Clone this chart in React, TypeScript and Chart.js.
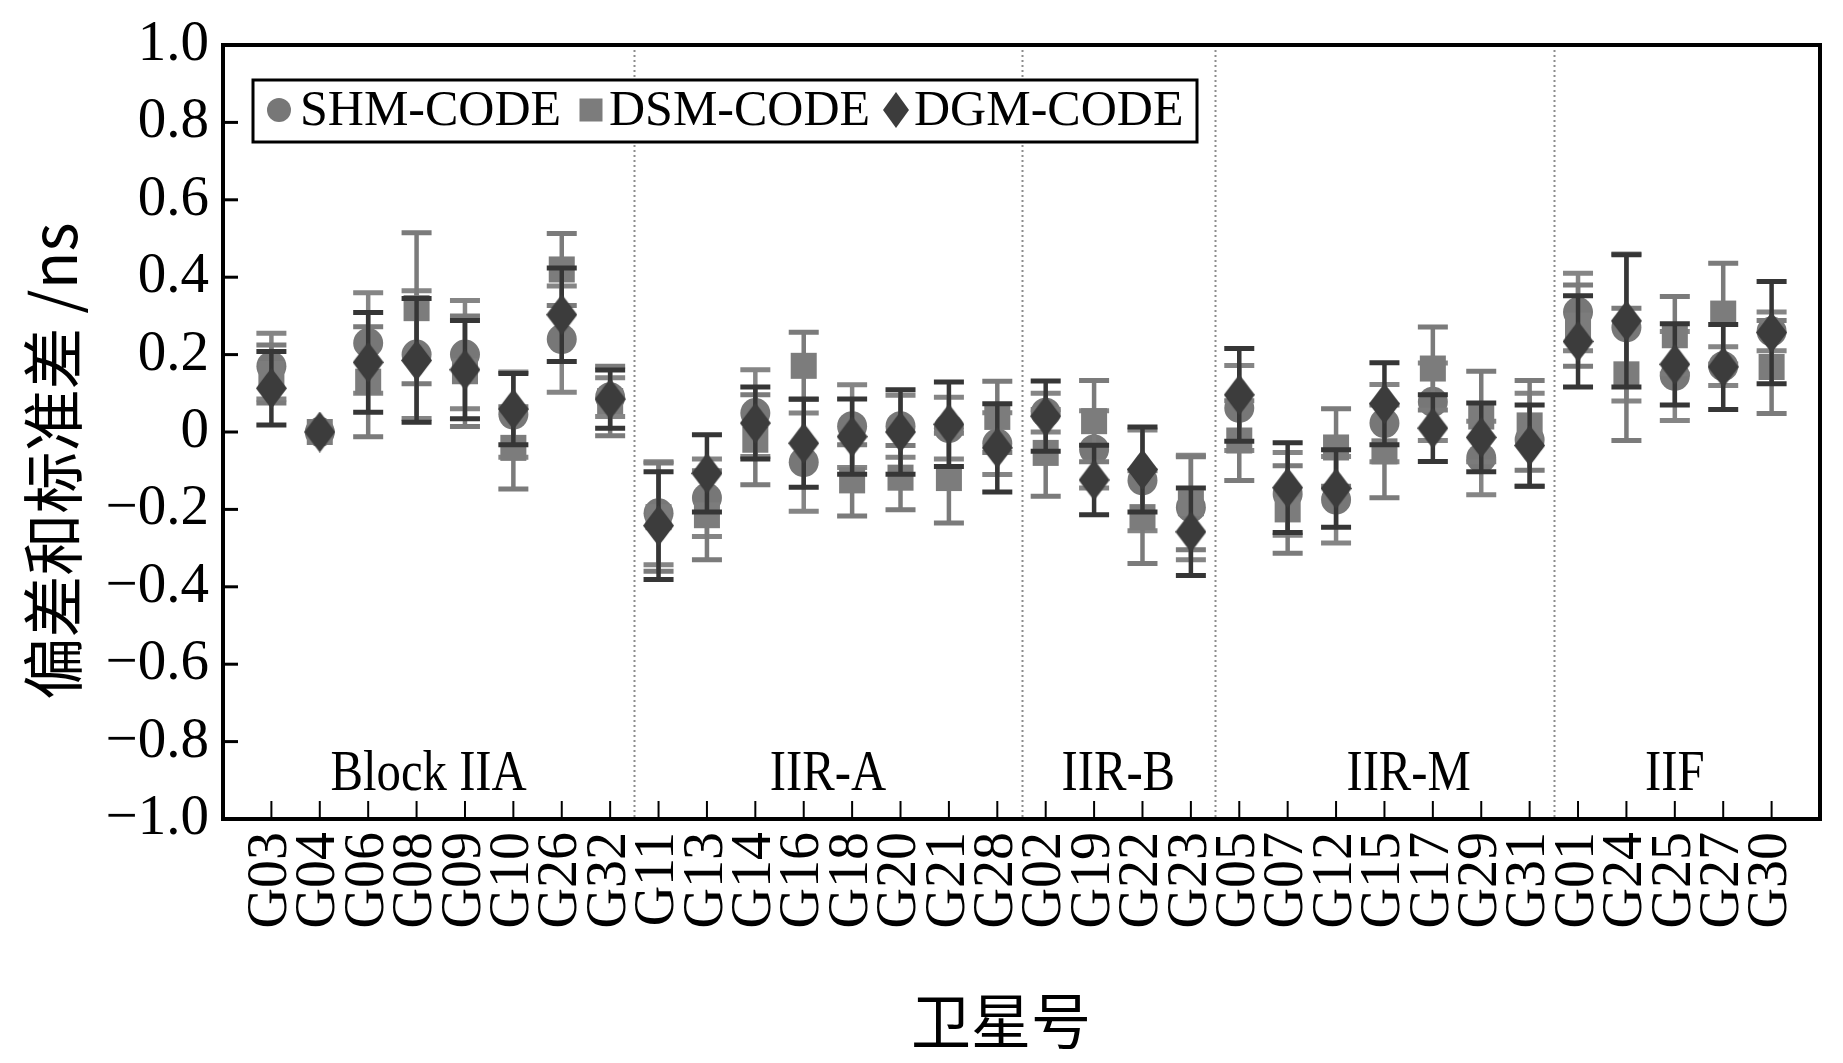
import React, { useEffect, useRef } from 'react';
import { Chart, registerables } from 'chart.js';

Chart.register(...registerables);

const satellites = [
  'G03', 'G04', 'G06', 'G08', 'G09', 'G10', 'G26', 'G32',
  'G11', 'G13', 'G14', 'G16', 'G18', 'G20', 'G21', 'G28',
  'G02', 'G19', 'G22', 'G23',
  'G05', 'G07', 'G12', 'G15', 'G17', 'G29', 'G31',
  'G01', 'G24', 'G25', 'G27', 'G30',
];

const shmMean = [
  0.17, 0.0, 0.23, 0.2, 0.2, 0.045, 0.24, 0.09,
  -0.21, -0.17, 0.049, -0.078, 0.015, 0.015, 0.01, -0.03,
  0.05, -0.045, -0.125, -0.195,
  0.062, -0.16, -0.175, 0.023, 0.078, -0.067, -0.02,
  0.31, 0.27, 0.145, 0.17, 0.26,
];
const shmStd = [
  0.085, 0.0, 0.13, 0.165, 0.14, 0.11, 0.137, 0.05,
  0.133, 0.1, 0.112, 0.127, 0.107, 0.08, 0.08, 0.08,
  0.05, 0.1, 0.13, 0.135,
  0.11, 0.107, 0.112, 0.1, 0.1, 0.095, 0.12,
  0.1, 0.19, 0.115, 0.05, 0.05,
];

const dsmMean = [
  0.15, 0.0, 0.13, 0.32, 0.157, -0.041, 0.42, 0.08,
  -0.22, -0.215, -0.02, 0.171, -0.125, -0.118, -0.119, 0.039,
  -0.054, 0.028, -0.22, -0.184,
  -0.022, -0.2, -0.04, -0.05, 0.164, 0.04, 0.017,
  0.275, 0.149, 0.25, 0.306, 0.168,
];
const dsmStd = [
  0.075, 0.0, 0.142, 0.195, 0.143, 0.106, 0.093, 0.09,
  0.14, 0.115, 0.116, 0.087, 0.092, 0.083, 0.116, 0.092,
  0.112, 0.105, 0.12, 0.12,
  0.103, 0.113, 0.1, 0.12, 0.107, 0.117, 0.116,
  0.105, 0.171, 0.1, 0.13, 0.12,
];

const dgmMean = [
  0.113, 0.0, 0.18, 0.185, 0.161, 0.059, 0.303, 0.085,
  -0.242, -0.107, 0.023, -0.029, -0.012, 0.0, 0.02, -0.041,
  0.041, -0.124, -0.097, -0.258,
  0.096, -0.144, -0.146, 0.073, 0.01, -0.014, -0.035,
  0.234, 0.287, 0.175, 0.168, 0.257,
];
const dgmStd = [
  0.095, 0.0, 0.129, 0.16, 0.127, 0.092, 0.121, 0.075,
  0.139, 0.1, 0.093, 0.114, 0.097, 0.109, 0.109, 0.114,
  0.091, 0.09, 0.11, 0.113,
  0.12, 0.116, 0.1, 0.106, 0.086, 0.089, 0.105,
  0.118, 0.171, 0.105, 0.11, 0.132,
];

const seriesNames = ['SHM-CODE', 'DSM-CODE', 'DGM-CODE'];
const groupNames = ['Block IIA', 'IIR-A', 'IIR-B', 'IIR-M', 'IIF'];
const groupLabelPos = [4.25, 12.5, 18.5, 24.5, 30];
const groupBoundaries = [8.5, 16.5, 20.5, 27.5];
const yMin = -1.0;
const yMax = 1.0;
const yStep = 0.2;
const xTitle = '卫星号';
const yTitle = '偏差和标准差 /ns';

const SHM_COLOR = '#777777';
const DSM_COLOR = '#7c7c7c';
const DGM_COLOR = '#3c3c3c';
const SHM_ERR = '#858585';
const DSM_ERR = '#7b7b7b';
const DGM_ERR = '#363636';

function makeDiamond(w: number, h: number, color: string) {
  const c = document.createElement('canvas');
  c.width = w;
  c.height = h;
  const g = c.getContext('2d')!;
  g.fillStyle = color;
  g.beginPath();
  g.moveTo(w / 2, 0);
  g.lineTo(w, h / 2);
  g.lineTo(w / 2, h);
  g.lineTo(0, h / 2);
  g.closePath();
  g.fill();
  return c;
}

function fmtY(v: number) {
  if (Math.abs(v) < 1e-9) return '0';
  const s = Math.abs(v).toFixed(1);
  return v < 0 ? '\u2212' + s : s;
}

const customPlugin = {
  id: 'customDecor',
  beforeDatasetsDraw(chart: any) {
    const { ctx, chartArea, scales } = chart;
    ctx.save();
    ctx.strokeStyle = '#8c8c8c';
    ctx.lineWidth = 2;
    ctx.setLineDash([2, 3]);
    groupBoundaries.forEach((b) => {
      const x = Math.round(scales.x.getPixelForValue(b)) + 0.5;
      ctx.beginPath();
      ctx.moveTo(x, chartArea.top);
      ctx.lineTo(x, chartArea.bottom);
      ctx.stroke();
    });
    ctx.restore();
  },
  beforeDatasetDraw(chart: any, args: any) {
    const ds = chart.data.datasets[args.index];
    const errs: number[] = ds.errs;
    const means: number[] = ds.means;
    if (!errs) return;
    const { ctx, scales } = chart;
    ctx.save();
    ctx.strokeStyle = ds.errColor;
    ctx.setLineDash([]);
    means.forEach((m, i) => {
      const e = errs[i];
      if (!e) return;
      const x = scales.x.getPixelForValue(i + 1);
      const yt = scales.y.getPixelForValue(m + e);
      const yb = scales.y.getPixelForValue(m - e);
      ctx.lineWidth = 4.5;
      ctx.beginPath();
      ctx.moveTo(x, yt);
      ctx.lineTo(x, yb);
      ctx.stroke();
      ctx.lineWidth = 5;
      ctx.beginPath();
      ctx.moveTo(x - 15, yt);
      ctx.lineTo(x + 15, yt);
      ctx.moveTo(x - 15, yb);
      ctx.lineTo(x + 15, yb);
      ctx.stroke();
    });
    ctx.restore();
  },
  afterDatasetsDraw(chart: any) {
    const { ctx, scales } = chart;
    ctx.save();
    ctx.fillStyle = '#000';
    ctx.textAlign = 'center';
    ctx.textBaseline = 'alphabetic';
    ctx.font = '56px "Liberation Serif"';
    groupNames.forEach((g, i) => {
      const x = scales.x.getPixelForValue(groupLabelPos[i]);
      ctx.save();
      ctx.translate(x, 790);
      ctx.scale(0.87, 1);
      ctx.fillText(g, 0, 0);
      ctx.restore();
    });
    const bx = 253, by = 80, bw = 944, bh = 62;
    ctx.fillStyle = '#fff';
    ctx.fillRect(bx, by, bw, bh);
    ctx.strokeStyle = '#000';
    ctx.lineWidth = 3;
    ctx.strokeRect(bx, by, bw, bh);
    const cy = 110;
    ctx.fillStyle = SHM_COLOR;
    ctx.beginPath();
    ctx.arc(279, cy, 12, 0, Math.PI * 2);
    ctx.fill();
    ctx.fillStyle = DSM_COLOR;
    ctx.fillRect(591 - 11.5, cy - 11.5, 23, 23);
    ctx.fillStyle = DGM_COLOR;
    ctx.beginPath();
    ctx.moveTo(896, cy - 18);
    ctx.lineTo(909, cy);
    ctx.lineTo(896, cy + 18);
    ctx.lineTo(883, cy);
    ctx.closePath();
    ctx.fill();
    ctx.fillStyle = '#000';
    ctx.font = '50px "Liberation Serif"';
    ctx.textAlign = 'left';
    ctx.textBaseline = 'middle';
    ctx.fillText(seriesNames[0], 300, cy + 2);
    ctx.fillText(seriesNames[1], 609, cy + 2);
    ctx.fillText(seriesNames[2], 914, cy + 2);
    ctx.restore();
  },
  afterDraw(chart: any) {
    const { ctx, chartArea, scales } = chart;
    ctx.save();
    ctx.strokeStyle = '#000';
    ctx.lineWidth = 3;
    for (let v = yMin; v <= yMax + 1e-9; v += yStep) {
      const y = scales.y.getPixelForValue(v);
      ctx.beginPath();
      ctx.moveTo(chartArea.left, y);
      ctx.lineTo(chartArea.left + 15, y);
      ctx.stroke();
    }
    ctx.lineWidth = 2;
    satellites.forEach((_, i) => {
      const x = scales.x.getPixelForValue(i + 1);
      ctx.beginPath();
      ctx.moveTo(x, chartArea.bottom);
      ctx.lineTo(x, chartArea.bottom - 18);
      ctx.stroke();
    });
    ctx.lineWidth = 4;
    ctx.strokeRect(chartArea.left, chartArea.top, chartArea.right - chartArea.left, chartArea.bottom - chartArea.top);
    ctx.fillStyle = '#000';
    ctx.textAlign = 'center';
    ctx.textBaseline = 'middle';
    ctx.font = '60px "Noto Sans CJK SC"';
    ctx.fillText(xTitle, 1001, 1021);
    ctx.save();
    ctx.translate(53, 461);
    ctx.rotate(-Math.PI / 2);
    ctx.font = '62px "Noto Sans CJK SC"';
    ctx.fillText(yTitle, 0, 0);
    ctx.restore();
    ctx.restore();
  },
};

export default function App() {
  const canvasRef = useRef<HTMLCanvasElement | null>(null);

  useEffect(() => {
    if (!canvasRef.current) return;
    const diamond = makeDiamond(31, 41, DGM_COLOR);
    const toPts = (arr: number[]) => arr.map((v, i) => ({ x: i + 1, y: v }));
    const chart = new Chart(canvasRef.current, {
      type: 'scatter',
      data: {
        datasets: [
          {
            label: seriesNames[0],
            data: toPts(shmMean),
            means: shmMean,
            errs: shmStd,
            errColor: SHM_ERR,
            pointStyle: 'circle',
            pointRadius: 15,
            backgroundColor: SHM_COLOR,
            borderWidth: 0,
            order: 3,
          } as any,
          {
            label: seriesNames[1],
            data: toPts(dsmMean),
            means: dsmMean,
            errs: dsmStd,
            errColor: DSM_ERR,
            pointStyle: 'rect',
            pointRadius: 18.4,
            backgroundColor: DSM_COLOR,
            borderWidth: 0,
            order: 2,
          } as any,
          {
            label: seriesNames[2],
            data: toPts(dgmMean),
            means: dgmMean,
            errs: dgmStd,
            errColor: DGM_ERR,
            pointStyle: diamond,
            pointRadius: 15,
            backgroundColor: DGM_COLOR,
            borderWidth: 0,
            order: 1,
          } as any,
        ],
      },
      options: {
        responsive: false,
        animation: false,
        events: [],
        layout: { padding: { top: 45, right: 23, left: 0, bottom: 0 } },
        plugins: {
          legend: { display: false },
          tooltip: { enabled: false },
        },
        scales: {
          x: {
            type: 'linear',
            min: 0,
            max: satellites.length + 1,
            grid: { display: false, drawTicks: false },
            border: { display: false },
            afterFit: (s: any) => {
              s.height = 244;
              s.paddingLeft = 0;
              s.paddingRight = 0;
            },
            ticks: {
              stepSize: 1,
              autoSkip: false,
              maxRotation: 90,
              minRotation: 90,
              padding: 13,
              color: '#000',
              font: { family: '"Liberation Serif"', size: 56 },
              callback: (v: any) => {
                const n = Math.round(Number(v));
                return n >= 1 && n <= satellites.length ? satellites[n - 1] : '';
              },
            },
          },
          y: {
            type: 'linear',
            min: yMin,
            max: yMax,
            grid: { display: false, drawTicks: false },
            border: { display: false },
            afterFit: (s: any) => {
              s.width = 223;
              s.paddingTop = 0;
              s.paddingBottom = 0;
            },
            ticks: {
              stepSize: yStep,
              padding: 14,
              color: '#000',
              font: { family: '"Liberation Serif"', size: 57 },
              callback: (v: any) => fmtY(Number(v)),
            },
          },
        },
      } as any,
      plugins: [customPlugin as any],
    });
    return () => chart.destroy();
  }, []);

  return (
    <div style={{ position: 'absolute', left: 0, top: 0, width: 1843, height: 1063, background: '#fff' }}>
      <canvas ref={canvasRef} width={1843} height={1063} style={{ display: 'block' }} />
    </div>
  );
}
